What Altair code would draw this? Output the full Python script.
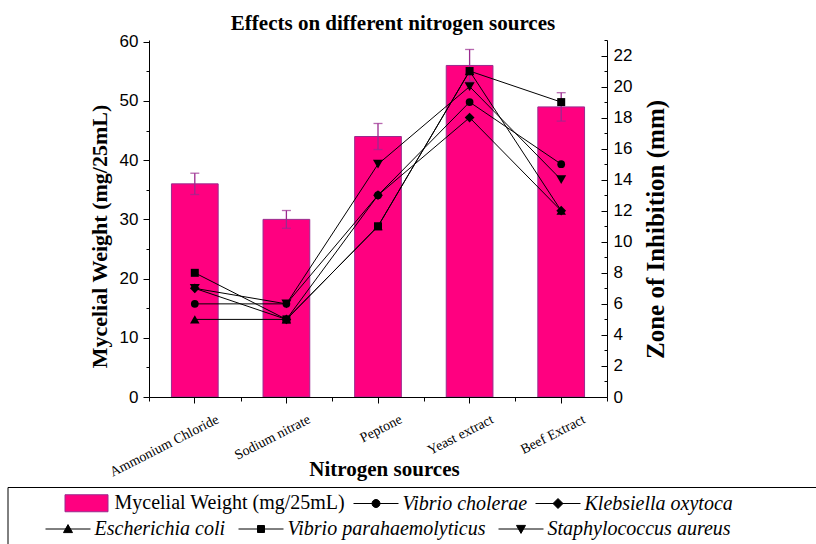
import altair as alt
import pandas as pd

# ---------------- data ----------------
categories = ["Ammonium Chloride", "Sodium nitrate", "Peptone", "Yeast extract", "Beef Extract"]
mycelial_weight = [36, 30, 44, 56, 49]
mycelial_error = [1.8, 1.5, 2.2, 2.7, 2.4]
bar_label = "Mycelial Weight (mg/25mL)"

series_names = ["Vibrio cholerae", "Klebsiella oxytoca", "Escherichia coli",
                "Vibrio parahaemolyticus", "Staphylococcus aureus"]
vibrio_cholerae = [6, 6, 13, 19, 15]
klebsiella_oxytoca = [7, 5, 13, 18, 12]
escherichia_coli = [5, 5, 11, 21, 12]
vibrio_parahaemolyticus = [8, 5, 11, 21, 19]
staphylococcus_aureus = [7, 6, 15, 20, 14]
zone_values = [vibrio_cholerae, klebsiella_oxytoca, escherichia_coli,
               vibrio_parahaemolyticus, staphylococcus_aureus]

left_major = [0, 10, 20, 30, 40, 50, 60]
left_minor = [5, 15, 25, 35, 45, 55]
right_major = [0, 2, 4, 6, 8, 10, 12, 14, 16, 18, 20, 22]
right_minor = [1, 3, 5, 7, 9, 11, 13, 15, 17, 19, 21, 23]

# ---------------- styling ----------------
PINK = "#FF0080"
PURPLE = "#9A2A8E"
SERIF = "Liberation Serif"
SANS = "Liberation Sans"
W, H = 458, 357
LEFT, TOP = 149, 40

marker_shapes = ["circle", "diamond", "triangle-up", "square", "triangle-down"]
marker_sizes = [60, 95, 90, 64, 100]

rect_path = "M-10.75,-4.25H10.75V4.25H-10.75Z"
line_marker_paths = [
    "M-10.5,0H12M2.75,0A2,2,0,1,1,-1.25,0A2,2,0,1,1,2.75,0Z",
    "M-10.5,0H12M0.75,-2.5L3.25,0L0.75,2.5L-1.75,0Z",
    "M-10.5,0H12M0.75,-2.2L3,1.8L-1.5,1.8Z",
    "M-10.5,0H12M-1,-1.75H2.5V1.75H-1Z",
    "M-10.5,0H12M-1.5,-1.8L3,-1.8L0.75,2.2Z",
]

# ---------------- tables ----------------
bars_df = pd.DataFrame({"category": categories, "weight": mycelial_weight, "err": mycelial_error})
bars_df["lo"] = bars_df["weight"] - bars_df["err"]
bars_df["hi"] = bars_df["weight"] + bars_df["err"]

rows = []
for name, vals in zip(series_names, zone_values):
    for c, v in zip(categories, vals):
        rows.append({"category": c, "series": name, "zone": v})
zone_df = pd.DataFrame(rows)

# legend rows (row 1: bar + first two series, row 2: remaining three)
row1_names = [bar_label] + series_names[:2]
row1_paths = [rect_path] + line_marker_paths[:2]
row1_fills = [PINK, "black", "black"]
row1_strokes = [PURPLE, "black", "black"]
row2_names = series_names[2:]
row2_paths = line_marker_paths[2:]
row2_fills = ["black"] * 3
row2_strokes = ["black"] * 3

# ---------------- scales / axes ----------------
common = dict(domainColor="black", tickColor="black", labelColor="black", grid=False,
              zindex=1, domainWidth=1, tickWidth=1)
y_left = alt.Scale(domain=[0, 60.3], nice=False, zero=True)
y_right = alt.Scale(domain=[0, 23], nice=False, zero=True)


def xband(axis=None, inner=0.49, outer=0.245, title=None):
    kw = dict(sort=categories,
              scale=alt.Scale(domain=categories, paddingInner=inner, paddingOuter=outer))
    kw["axis"] = axis
    if title is not None:
        kw["title"] = title
    return alt.X("category:N", **kw)


x_major_axis = alt.Axis(orient="bottom", labelAngle=333, labelAlign="right", labelBaseline="top",
                        labelFont=SERIF, labelFontSize=14, labelOffset=20, labelPadding=9,
                        labelOverlap=False, labelLimit=300, tickSize=6,
                        titleFont=SERIF, titleFontSize=21, titleFontWeight="bold", titleColor="black",
                        titleX=235, titleY=78, titleAlign="center", titleBaseline="alphabetic",
                        **common)
x_minor_axis = alt.Axis(orient="bottom", tickBand="extent", tickSize=4, labels=False, domain=False,
                        title=None, **common)
left_major_axis = alt.Axis(orient="left", values=left_major, tickSize=6, labelPadding=5,
                           labelFont=SANS, labelFontSize=17,
                           titleFont=SERIF, titleFontSize=22, titleFontWeight="bold", titleColor="black",
                           titleX=-50, titleY=196, titleAngle=270, titleAlign="center",
                           titleBaseline="middle", **common)
left_minor_axis = alt.Axis(orient="left", values=left_minor, tickSize=3, labels=False, domain=False,
                           title=None, **common)
right_axis = alt.Axis(orient="right", values=right_major, ticks=False, tickSize=0, labelPadding=6,
                      labelFont=SANS, labelFontSize=17,
                      titleFont=SERIF, titleFontSize=25, titleFontWeight="bold", titleColor="black",
                      titleX=48, titleY=189, titleAngle=270, titleAlign="center",
                      titleBaseline="middle", **common)
right_major_in = alt.Axis(orient="left", offset=-W, values=right_major, tickSize=6, labels=False,
                          domain=False, title=None, **common)
right_minor_in = alt.Axis(orient="left", offset=-W, values=right_minor, tickSize=3, labels=False,
                          domain=False, title=None, **common)

# ---------------- layers ----------------
bars = alt.Chart(bars_df).mark_bar(fill=PINK, stroke=PURPLE, strokeWidth=1).encode(
    x=xband(x_major_axis, title="Nitrogen sources"),
    y=alt.Y("weight:Q", scale=y_left, axis=left_major_axis, title=bar_label),
)

err_stem = alt.Chart(bars_df).mark_rule(color=PURPLE, strokeWidth=1.3).encode(
    x=xband(x_minor_axis, inner=0, outer=0),
    y=alt.Y("lo:Q", scale=y_left, axis=left_minor_axis),
    y2="hi:Q",
)

caps = alt.Chart(bars_df).transform_fold(["lo", "hi"], as_=["end", "val"]).mark_tick(
    color=PURPLE, size=9, thickness=1.3, orient="horizontal"
).encode(
    x=xband(None),
    y=alt.Y("val:Q", scale=y_left, axis=None),
)

lines = alt.Chart(zone_df).mark_line(color="black", strokeWidth=1).encode(
    x=xband(None),
    y=alt.Y("zone:Q", scale=y_right, axis=right_axis, title="Zone of Inhibition (mm)"),
    detail="series:N",
)

marker_layers = []
for i, (name, shape, size) in enumerate(zip(series_names, marker_shapes, marker_sizes)):
    ax = right_major_in if i == 0 else (right_minor_in if i == 1 else None)
    marker_layers.append(
        alt.Chart(zone_df).transform_filter(alt.datum.series == name).mark_point(
            shape=shape, filled=True, color="black", size=size, opacity=1
        ).encode(
            x=xband(None),
            y=alt.Y("zone:Q", scale=y_right, axis=ax),
        )
    )


def legend_row(names, paths, fills, strokes, lx, ly, colpad):
    ldef = alt.Legend(
        title=None, orient="none", legendX=lx, legendY=ly, direction="horizontal",
        gridAlign="each", columnPadding=colpad, rowPadding=6,
        symbolSize=16, symbolOffset=11.5, symbolStrokeWidth=1, symbolOpacity=1, labelOffset=18,
        labelFont=SERIF, labelFontSize=20, labelLimit=400, labelColor="black",
        labelFontStyle=alt.ExprRef(expr="datum.label == '" + bar_label + "' ? 'normal' : 'italic'"),
        padding=0,
    )
    df = pd.DataFrame({"series": names})
    return alt.Chart(df).mark_point(filled=True, opacity=0, strokeWidth=1).encode(
        shape=alt.Shape("series:N", scale=alt.Scale(domain=names, range=paths), legend=ldef),
        fill=alt.Fill("series:N", scale=alt.Scale(domain=names, range=fills), legend=ldef),
        stroke=alt.Stroke("series:N", scale=alt.Scale(domain=names, range=strokes), legend=ldef),
    )


legend_a = legend_row(row1_names, row1_paths, row1_fills, row1_strokes, 65 - LEFT, 493 - TOP, 5)
legend_b = legend_row(row2_names, row2_paths, row2_fills, row2_strokes, 45 - LEFT, 519 - TOP, 10)

frame = alt.Chart(pd.DataFrame({"k": [0]})).mark_rect(fillOpacity=0, stroke="black", strokeWidth=1).encode(
    x=alt.value(8 - LEFT), x2=alt.value(W + 220), y=alt.value(487.5 - TOP), y2=alt.value(H + 200)
)

chart = alt.layer(bars, err_stem, caps, lines, *marker_layers, legend_a, legend_b, frame).resolve_scale(
    x="independent", y="independent", shape="independent", fill="independent", stroke="independent"
).properties(
    width=W, height=H,
    title=alt.TitleParams("Effects on different nitrogen sources", font=SERIF, fontSize=21,
                          fontWeight="bold", color="black", anchor="middle", dx=15, dy=5),
    autosize=alt.AutoSizeParams(type="none"),
    padding={"left": LEFT, "top": TOP, "right": 816 - LEFT - W, "bottom": 544 - TOP - H},
).configure_view(stroke=None)

chart.save("out.html", embed_options={"renderer": "svg", "actions": False})
